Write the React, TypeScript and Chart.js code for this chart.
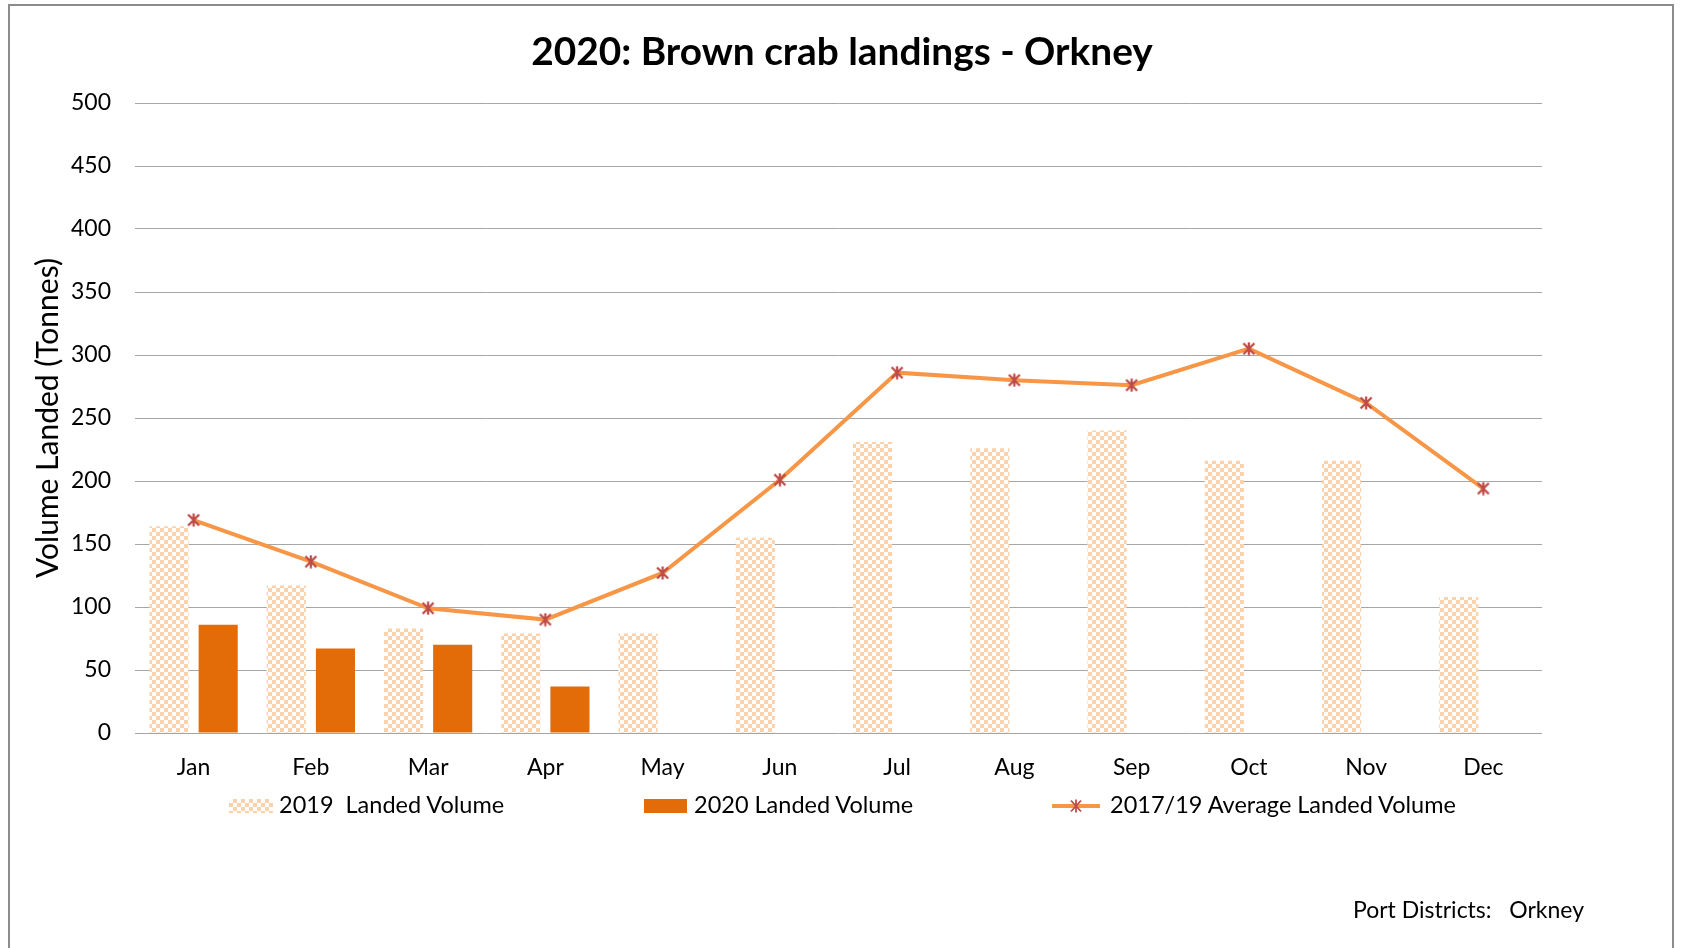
import React, { useEffect, useRef } from "react";
import { Chart, registerables } from "chart.js";

Chart.register(...registerables);

// ---- data ----
const months = ["Jan", "Feb", "Mar", "Apr", "May", "Jun", "Jul", "Aug", "Sep", "Oct", "Nov", "Dec"];
const landed2019 = [164, 117, 83, 79, 79, 155, 231, 226, 240, 216, 216, 108];
const landed2020 = [86, 67, 70, 37, null, null, null, null, null, null, null, null];
const avg1719 = [169, 136, 99, 90, 127, 201, 286, 280, 276, 305, 262, 194];
const yTickMin = 0;
const yTickMax = 500;
const yTickStep = 50;

const titleText = "2020: Brown crab landings - Orkney";
const yTitle = "Volume Landed (Tonnes)";
const legendLabels = ["2019  Landed Volume", "2020 Landed Volume", "2017/19 Average Landed Volume"];
const footText = "Port Districts:   Orkney";

// ---- styles ----
const FONT = "Lato, Calibri, Carlito, 'DejaVu Sans', sans-serif";
const PEACH = "#FCD2AC";
const ORANGE_DARK = "#E36C09";
const ORANGE_LINE = "#F79646";
const MARKER = "#BE4B48";
const GRID = "#A6A6A6";

function makeChecker(color: string, bg: string, cell: number): HTMLCanvasElement {
  const c = document.createElement("canvas");
  c.width = cell * 2;
  c.height = cell * 2;
  const ctx = c.getContext("2d")!;
  ctx.fillStyle = bg;
  ctx.fillRect(0, 0, cell * 2, cell * 2);
  ctx.fillStyle = color;
  ctx.fillRect(0, 0, cell, cell);
  ctx.fillRect(cell, cell, cell, cell);
  return c;
}

function makeStar(size: number, color: string, lw: number): HTMLCanvasElement {
  const c = document.createElement("canvas");
  c.width = size;
  c.height = size;
  const ctx = c.getContext("2d")!;
  ctx.strokeStyle = color;
  ctx.lineWidth = lw;
  const m = 1.5;
  ctx.beginPath();
  ctx.moveTo(m, m);
  ctx.lineTo(size - m, size - m);
  ctx.moveTo(size - m, m);
  ctx.lineTo(m, size - m);
  ctx.moveTo(size / 2, 0.5);
  ctx.lineTo(size / 2, size - 0.5);
  ctx.stroke();
  return c;
}

export default function App() {
  const canvasRef = useRef<HTMLCanvasElement | null>(null);

  useEffect(() => {
    const canvas = canvasRef.current;
    if (!canvas) return;
    const ctx = canvas.getContext("2d")!;
    const pattern = ctx.createPattern(makeChecker(PEACH, "#FFFFFF", 4), "repeat")!;
    const star = makeStar(14, MARKER, 2.3);

    const chart = new Chart(canvas, {
      type: "bar",
      data: {
        labels: months,
        datasets: [
          {
            type: "line",
            label: legendLabels[2],
            data: avg1719,
            borderColor: ORANGE_LINE,
            backgroundColor: ORANGE_LINE,
            borderWidth: 4,
            pointStyle: star as any,
            pointRadius: 7,
            tension: 0,
            order: 0,
          } as any,
          {
            type: "bar",
            label: legendLabels[0],
            data: landed2019,
            backgroundColor: pattern as any,
            borderWidth: 0,
            categoryPercentage: 0.838,
            barPercentage: 0.796,
            order: 1,
          },
          {
            type: "bar",
            label: legendLabels[1],
            data: landed2020,
            backgroundColor: ORANGE_DARK,
            borderWidth: 0,
            categoryPercentage: 0.838,
            barPercentage: 0.796,
            order: 1,
          },
        ],
      },
      options: {
        responsive: false,
        animation: false,
        devicePixelRatio: 1,
        layout: { padding: { top: 103, left: 8, right: 139, bottom: 155 } },
        plugins: {
          legend: { display: false },
          title: { display: false },
          tooltip: { enabled: false },
        },
        scales: {
          x: {
            grid: { display: false },
            border: { display: false },
            ticks: {
              color: "#000",
              padding: 13,
              font: { family: FONT, size: 23 },
              maxRotation: 0,
            },
            afterFit: (s: any) => {
              s.height = 60;
            },
          },
          y: {
            min: yTickMin,
            max: yTickMax,
            ticks: {
              stepSize: yTickStep,
              color: "#000",
              padding: 24,
              font: { family: FONT, size: 23 },
            },
            grid: { color: GRID, lineWidth: 1, drawTicks: false },
            border: { display: false },
            title: {
              display: true,
              text: yTitle,
              color: "#000",
              font: { family: FONT, size: 30 },
              padding: { top: 22, bottom: 0 },
            },
            afterFit: (s: any) => {
              s.width = 127;
            },
          },
        },
      },
    });

    (document as any).fonts?.load?.(`23px Lato`).then(() => chart.update()).catch(() => {});

    return () => chart.destroy();
  }, []);

  const textBase: React.CSSProperties = {
    position: "absolute",
    fontFamily: FONT,
    color: "#000",
    whiteSpace: "pre",
  };

  return (
    <div style={{ position: "absolute", left: 0, top: 0, width: 1681, height: 948, overflow: "hidden", background: "#fff" }}>
      <div
        style={{
          position: "absolute",
          left: 8,
          top: 4,
          width: 1666,
          height: 944,
          boxSizing: "border-box",
          borderTop: "2px solid #8C8C8C",
          borderLeft: "2px solid #8C8C8C",
          borderRight: "2px solid #8C8C8C",
        }}
      />
      <canvas ref={canvasRef} width={1681} height={948} style={{ position: "absolute", left: 0, top: 0, width: 1681, height: 948 }} />
      <div
        style={{
          ...textBase,
          left: 0,
          width: 1684,
          top: 27,
          lineHeight: "46px",
          textAlign: "center",
          fontWeight: 700,
          fontSize: 38.8,
        }}
      >
        {titleText}
      </div>

      {/* legend */}
      <div
        style={{
          position: "absolute",
          left: 229,
          top: 799,
          width: 44,
          height: 14,
          background: `repeating-conic-gradient(${PEACH} 0 25%, #ffffff 0 50%) 0 0/8px 8px`,
        }}
      />
      <div style={{ ...textBase, left: 279, top: 790, lineHeight: "28px", fontSize: 23.5 }}>{legendLabels[0]}</div>

      <div style={{ position: "absolute", left: 644, top: 799, width: 43, height: 14, background: ORANGE_DARK }} />
      <div style={{ ...textBase, left: 694, top: 790, lineHeight: "28px", fontSize: 23.5 }}>{legendLabels[1]}</div>

      <svg style={{ position: "absolute", left: 1052, top: 798 }} width={48} height={16}>
        <line x1={0} y1={8} x2={48} y2={8} stroke={ORANGE_LINE} strokeWidth={4} />
        <g stroke={MARKER} strokeWidth={1.8}>
          <line x1={19} y1={2.5} x2={29} y2={13.5} />
          <line x1={29} y1={2.5} x2={19} y2={13.5} />
          <line x1={24} y1={1.5} x2={24} y2={14.5} />
        </g>
      </svg>
      <div style={{ ...textBase, left: 1110, top: 790, lineHeight: "28px", fontSize: 23.5 }}>{legendLabels[2]}</div>

      <div style={{ ...textBase, left: 1353, top: 895, lineHeight: "28px", fontSize: 23 }}>{footText}</div>
    </div>
  );
}
